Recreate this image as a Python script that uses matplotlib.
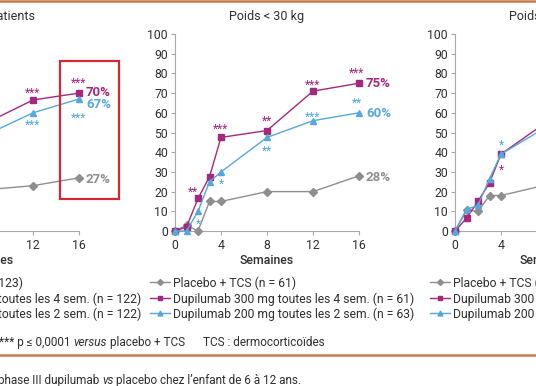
import matplotlib
matplotlib.use("Agg")
import matplotlib.pyplot as plt
from matplotlib.lines import Line2D
from matplotlib.patches import Rectangle

plt.rcParams['font.family'] = ['Roboto', 'DejaVu Sans']

# ---------------- data ----------------
weeks = [0, 1, 2, 3, 4, 8, 12, 16]
xticks = [0, 4, 8, 12, 16]
yticks = [0, 10, 20, 30, 40, 50, 60, 70, 80, 90, 100]
titles = ["Tous les patients", "Poids < 30 kg", "Poids \u2265 30 kg"]
xlabel = "Semaines"

all_placebo = [0, 3, 7, 12, 14, 21, 23, 27]
all_d300 = [0, 3, 12, 22, 33, 55, 66.5, 70]
all_d200 = [0, 3, 10, 24, 37, 49, 60, 67]

lt30_placebo = [0, 3, 0, 15, 15, 20, 20, 28]
lt30_d300 = [0, 2, 16.5, 27.5, 47.5, 51, 71, 75]
lt30_d200 = [0, 0, 10, 25, 30, 47.5, 56, 60]

ge30_placebo = [0, 10.5, 10, 18, 18, 23.5, 25, 26]
ge30_d300 = [0, 6.5, 15, 24.5, 39, 55.5, 62, 64]
ge30_d200 = [0, 11, 13, 26.5, 39, 53, 60, 62]

n_placebo = [123, 61, 62]
n_d300 = [122, 61, 61]
n_d200 = [122, 63, 59]

legend_fmt = ["Placebo + TCS (n = {})",
              "Dupilumab 300 mg toutes les 4 sem. (n = {})",
              "Dupilumab 200 mg toutes les 2 sem. (n = {})"]

# significance marks: (week, series index, stars, offset in % units, week shift)
sig_all = [(12, 1, "***", 5, 0), (12, 2, "***", -5, 0),
           (16, 1, "***", 6.5, 0), (16, 2, "***", -8.5, 0)]
sig_lt30 = [(2, 1, "**", 4.5, -0.4), (2, 2, "*", -5, 0),
            (4, 1, "***", 5.5, 0), (4, 2, "*", -5, 0),
            (8, 1, "**", 6, 0), (8, 2, "**", -5.5, 0),
            (12, 1, "***", 4.5, 0), (12, 2, "***", 3, 0),
            (16, 1, "***", 6.5, -0.2), (16, 2, "**", 6.5, -0.2)]
sig_ge30 = [(4, 2, "*", 6, 0), (4, 1, "*", -7, 0)]

# final-value label offsets (in % units)
end_offsets = [[0, 1, -2], [0, 0.6, 0.4], [0, 0, 0]]

footnote = ["*** p \u2264 0,0001", "versus", "placebo + TCS"]
footnote2 = "TCS : dermocortico\u00efdes"
caption = ["phase III dupilumab", "vs", "placebo chez l\u2019enfant de 6 \u00e0 12 ans."]

# ---------------- style ----------------
W, H = 536, 386
GRAY = "#8e8e8e"
MAG = "#a4287e"
BLUE = "#55a8dc"
TXT = "#2e2e2e"
SPINE = "#a8a8a8"
ORANGE = "#c9784e"
RED = "#d3273a"
colors = [GRAY, MAG, BLUE]
markers = ["D", "s", "^"]
msizes = [3.8, 4.0, 4.4]

fig = plt.figure(figsize=(W / 100, H / 100), dpi=100)
fig.patch.set_facecolor("white")


def fx(x):
    return x / W


def fy(y):
    return 1 - y / H


panel_left = [-105, 175, 455]
panel_w, top_px, bot_px = 184, 34, 231

series_sets = [[all_placebo, all_d300, all_d200],
               [lt30_placebo, lt30_d300, lt30_d200],
               [ge30_placebo, ge30_d300, ge30_d200]]
sig_sets = [sig_all, sig_lt30, sig_ge30]
ns = [[n_placebo[i], n_d300[i], n_d200[i]] for i in range(3)]

FS_TICK = 8.8
FS_STAR = 8.5
FS_END = 9.5
FS_LEG = 8.7

axes = []
for p in range(3):
    ax = fig.add_axes([fx(panel_left[p]), fy(bot_px), panel_w / W, (bot_px - top_px) / H])
    axes.append(ax)
    ax.set_xlim(0, 16)
    ax.set_ylim(0, 100)
    ax.set_xticks(xticks)
    ax.set_yticks(yticks)
    ax.tick_params(axis="both", labelsize=FS_TICK, colors=SPINE, labelcolor=TXT,
                   length=3, width=0.8, pad=2)
    ax.tick_params(axis="x", pad=2.5)
    for s in ["top", "right"]:
        ax.spines[s].set_visible(False)
    for s in ["left", "bottom"]:
        ax.spines[s].set_color(SPINE)
        ax.spines[s].set_linewidth(0.8)
    ax.set_title(titles[p], fontsize=9, color=TXT, pad=10)
    ax.set_xlabel(xlabel, fontsize=8.8, color=TXT, fontweight="medium", labelpad=2)
    ser = series_sets[p]
    for k in range(3):
        ax.plot(weeks, ser[k], color=colors[k], marker=markers[k], markersize=msizes[k],
                linewidth=1.0, clip_on=False, zorder=3 + k)
    # significance stars
    for (wk, k, st, dy, dx) in sig_sets[p]:
        yv = ser[k][weeks.index(wk)] + dy
        ax.annotate(st, (wk + dx, yv), xytext=(0, -0.52 * FS_STAR), textcoords="offset points",
                    ha="center", va="baseline", fontsize=FS_STAR, color=colors[k],
                    annotation_clip=False)
    # end labels
    if p < 2:
        for k in range(3):
            v = ser[k][-1]
            ax.annotate(f"{round(v)}%", (16, v + end_offsets[p][k]), xytext=(5, -0.36 * FS_END),
                        textcoords="offset points", ha="left", va="baseline",
                        fontsize=FS_END, fontweight="bold", color=colors[k],
                        annotation_clip=False)

# red highlight box on first panel
axes[0].add_patch(Rectangle((14.35, 16.2), 5.15, 70.1, fill=False, edgecolor=RED,
                            linewidth=1.6, clip_on=False, zorder=10))

# legends (drawn manually below each panel)
row_y = [282, 298, 313]
for p in range(3):
    x0 = panel_left[p]
    for k in range(3):
        y = row_y[k]
        fig.add_artist(Line2D([fx(x0 - 25), fx(x0 - 5)], [fy(y), fy(y)], color=colors[k],
                              linewidth=1.0, transform=fig.transFigure))
        fig.add_artist(Line2D([fx(x0 - 15)], [fy(y)], color=colors[k], marker=markers[k],
                              markersize=msizes[k] * 0.8, transform=fig.transFigure))
        fig.text(fx(x0 - 2), fy(y), legend_fmt[k].format(ns[p][k]), fontsize=FS_LEG,
                 color=TXT, ha="left", va="center_baseline")

# orange rules
fig.add_artist(Line2D([0, 1], [fy(0.8), fy(0.8)], color=ORANGE, linewidth=1.8,
                      transform=fig.transFigure))
fig.add_artist(Line2D([0, 1], [fy(355), fy(355)], color=ORANGE, linewidth=1.8,
                      transform=fig.transFigure))

# chained texts with italic word
renderer = fig.canvas.get_renderer()


def chain(pieces, styles, x_px, y_px, fs):
    sp = fig.text(0, 0, "a a", fontsize=fs)
    sq = fig.text(0, 0, "aa", fontsize=fs)
    space = sp.get_window_extent(renderer).width - sq.get_window_extent(renderer).width
    sp.remove()
    sq.remove()
    x = x_px
    for i, (t, st) in enumerate(zip(pieces, styles)):
        tx = fig.text(fx(x), fy(y_px), t, fontsize=fs, style=st, color=TXT,
                      ha="left", va="center_baseline")
        x += tx.get_window_extent(renderer).width + space


chain(footnote, ["normal", "italic", "normal"], -1, 341, 8.5)
fig.text(fx(203), fy(341), footnote2, fontsize=8.5, color=TXT, ha="left", va="center_baseline")
chain(caption, ["normal", "italic", "normal"], -2, 379, 8.5)

fig.savefig("out.png", dpi=100)
